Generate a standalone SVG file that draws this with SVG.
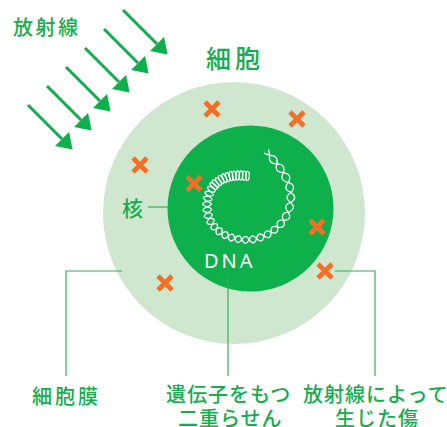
<svg xmlns="http://www.w3.org/2000/svg" xmlns:xlink="http://www.w3.org/1999/xlink" width="447" height="427" viewBox="0 0 447 427">
  <defs>
    <style>
      .lbl { font-family: "Noto Sans CJK JP", "Noto Sans", sans-serif; fill: #14AE4C; font-size: 20px; font-weight: 500; }
      .ray { stroke: #0DB04B; stroke-width: 3; fill: none; marker-end: url(#ah); }
      .lead { stroke: #2DB456; stroke-width: 1.2; fill: none; }
      .hit { stroke: #F26F25; stroke-width: 4.6; fill: none; }
      .strand { fill: none; stroke: #fff; stroke-width: 1.3; vector-effect: non-scaling-stroke; }
    </style>
    <marker id="ah" markerUnits="userSpaceOnUse" markerWidth="15" markerHeight="20" refX="0" refY="10" orient="auto" viewBox="0 0 15 20">
      <path d="M0,0 L15,10 L0,20 Z" fill="#0DB04B"/>
    </marker>
    <!-- one twist of the double helix (lens between two crossings) -->
    <path id="tw" class="strand" d="M-5,0 Q0,-7 5,0 Q0,7 -5,0Z"/>
    <!-- one coil loop seen edge-on -->
    <ellipse id="lp" class="strand" rx="1.8" ry="4.6"/>
    <!-- damage mark -->
    <path id="x" class="hit" d="M-7,-7 L7,7 M7,-7 L-7,7"/>
  </defs>

  <!-- incoming radiation -->
  <g id="radiation">
    <text class="lbl" x="13" y="34.5" letter-spacing="2.5">放射線</text>
    <line class="ray" x1="123" y1="10" x2="157" y2="44"/>
    <line class="ray" x1="104" y1="29" x2="138" y2="63"/>
    <line class="ray" x1="85" y1="48" x2="119" y2="82"/>
    <line class="ray" x1="66" y1="67" x2="100" y2="101"/>
    <line class="ray" x1="47" y1="86" x2="81" y2="120"/>
    <line class="ray" x1="28" y1="105" x2="62" y2="139"/>
  </g>

  <!-- cell body -->
  <g id="cell">
    <circle cx="234" cy="213" r="131" fill="#CFE7CE"/>
    <text class="lbl" x="206" y="68" style="font-size:25px" letter-spacing="4">細胞</text>
  </g>

  <!-- nucleus -->
  <g id="nucleus">
    <circle cx="250.5" cy="208.5" r="83" fill="#0DB04B"/>
    <text class="lbl" x="122" y="215.5" style="font-size:21px">核</text>
  </g>

  <!-- circular double-stranded DNA -->
  <g id="dna">
    <use xlink:href="#lp" transform="translate(247.5,175.9) rotate(3)"/>
    <use xlink:href="#lp" transform="translate(244.2,175.7) rotate(3)"/>
    <use xlink:href="#lp" transform="translate(240.9,175.55) rotate(2)"/>
    <use xlink:href="#lp" transform="translate(237.6,175.6) rotate(0)"/>
    <use xlink:href="#lp" transform="translate(234.3,175.8) rotate(-3)"/>
    <use xlink:href="#lp" transform="translate(231,176) rotate(-10)"/>
    <use xlink:href="#lp" transform="translate(227.8,177.1) rotate(-18)"/>
    <use xlink:href="#lp" transform="translate(224.5,178.2) rotate(-22)"/>
    <use xlink:href="#lp" transform="translate(221.3,179.5) rotate(-30)"/>
    <use xlink:href="#lp" transform="translate(218.5,181.5) rotate(-36)"/>
    <use xlink:href="#lp" transform="translate(215.6,183.6) rotate(-42)"/>
    <use xlink:href="#lp" transform="translate(213.6,186) rotate(-50)"/>

    <use xlink:href="#tw" transform="translate(211.3,189.25) rotate(124.3) scale(0.5,1.25)"/>
    <use xlink:href="#tw" transform="translate(209.1,193.65) rotate(108.8) scale(0.5,1.25)"/>
    <use xlink:href="#tw" transform="translate(207.65,198.65) rotate(103.8) scale(0.55,1.25)"/>
    <use xlink:href="#tw" transform="translate(207,204.05) rotate(90) scale(0.55,1.2)"/>
    <use xlink:href="#tw" transform="translate(207.3,209.75) rotate(84.2) scale(0.59,1.2)"/>
    <use xlink:href="#tw" transform="translate(208.25,215.65) rotate(77.6) scale(0.6,1.15)"/>
    <use xlink:href="#tw" transform="translate(210.55,221.4) rotate(59.5) scale(0.65,1.1)"/>
    <use xlink:href="#tw" transform="translate(214.3,226.65) rotate(49.4) scale(0.645,1.1)"/>
    <use xlink:href="#tw" transform="translate(219.15,231.25) rotate(38) scale(0.7,1.05)"/>
    <use xlink:href="#tw" transform="translate(225.05,235) rotate(26.9) scale(0.71,1)"/>
    <use xlink:href="#tw" transform="translate(231.5,237.55) rotate(16.1) scale(0.69,1)"/>
    <use xlink:href="#tw" transform="translate(238.25,239.05) rotate(9.1) scale(0.7,1)"/>
    <use xlink:href="#tw" transform="translate(245.45,239.8) rotate(3.1) scale(0.75,1)"/>
    <use xlink:href="#tw" transform="translate(252.9,239.35) rotate(-10) scale(0.75,1)"/>
    <use xlink:href="#tw" transform="translate(260.35,237.45) rotate(-18.4) scale(0.79,1)"/>
    <use xlink:href="#tw" transform="translate(267.6,234.3) rotate(-28.5) scale(0.8,1)"/>
    <use xlink:href="#tw" transform="translate(274.4,229.8) rotate(-38.2) scale(0.84,1)"/>
    <use xlink:href="#tw" transform="translate(280.7,223.8) rotate(-48.6) scale(0.91,1.05)"/>
    <use xlink:href="#tw" transform="translate(286.05,216.25) rotate(-60.5) scale(0.95,1.05)"/>
    <use xlink:href="#tw" transform="translate(289.55,207.3) rotate(-76.5) scale(0.99,1.1)"/>
    <use xlink:href="#tw" transform="translate(290.85,197.5) rotate(-88.3) scale(1,1.1)"/>
    <use xlink:href="#tw" transform="translate(289.7,187.45) rotate(-104.4) scale(1.04,1.1)"/>
    <use xlink:href="#tw" transform="translate(285.85,177.5) rotate(-117.5) scale(1.1,1.1)"/>
    <use xlink:href="#tw" transform="translate(280.05,168.2) rotate(-126.4) scale(1.09,1.05)"/>
    <use xlink:href="#tw" transform="translate(273.25,159.6) rotate(-130.2) scale(1.1,1)"/>
    <path class="strand" d="M269.7,155.4 L268.5,149.3 M269.7,155.4 L263.9,153.1"/>

    <text x="204" y="268" font-family="'Noto Sans', 'Liberation Sans', sans-serif" font-size="20" letter-spacing="3" fill="#fff">DNA</text>
  </g>

  <!-- damage caused by radiation -->
  <g id="damage">
    <use xlink:href="#x" transform="translate(212,109)"/>
    <use xlink:href="#x" transform="translate(297,119)"/>
    <use xlink:href="#x" transform="translate(140,165)"/>
    <use xlink:href="#x" transform="translate(194,183.5)"/>
    <use xlink:href="#x" transform="translate(317,227)"/>
    <use xlink:href="#x" transform="translate(325,271)"/>
    <use xlink:href="#x" transform="translate(165,283)"/>
  </g>

  <!-- leader lines -->
  <g id="connectors">
    <line class="lead" x1="148" y1="207" x2="168" y2="207"/>
    <polyline class="lead" points="122,271 66,271 66,376"/>
    <line class="lead" x1="228" y1="276" x2="228" y2="376"/>
    <polyline class="lead" points="335,271 375,271 375,376"/>
  </g>

  <!-- captions -->
  <g id="label-membrane">
    <text class="lbl" x="32" y="403.5" letter-spacing="3">細胞膜</text>
  </g>
  <g id="label-dna">
    <text class="lbl" x="166" y="401.5" letter-spacing="1">遺伝子をもつ</text>
    <text class="lbl" x="178" y="425.5" letter-spacing="1">二重らせん</text>
  </g>
  <g id="label-damage">
    <text class="lbl" x="303" y="401.5" letter-spacing="1">放射線によって</text>
    <text class="lbl" x="335" y="425.5" letter-spacing="1">生じた傷</text>
  </g>
</svg>
